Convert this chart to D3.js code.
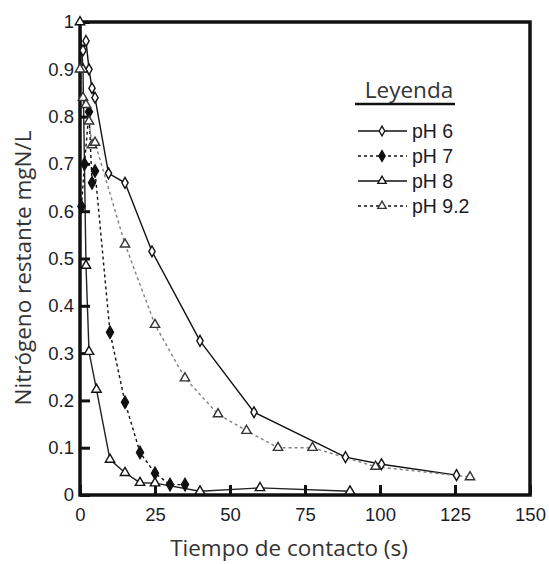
<!DOCTYPE html>
<html>
<head>
<meta charset="utf-8">
<script src="https://cdn.jsdelivr.net/npm/d3@7"></script>
<style>
  html, body { margin: 0; padding: 0; background: #fff; }
  svg { display: block; }
</style>
</head>
<body>
<svg id="chart" width="549" height="564"></svg>
<script>
// Remaining nitrogen (mgN/L) versus contact time (s) for four pH levels
const timePH6  = [1, 2, 3, 4, 5, 9.5, 15, 24, 40, 58, 88.5, 100.5, 125.5];
const valuePH6 = [0.94, 0.96, 0.90, 0.86, 0.84, 0.68, 0.66, 0.515, 0.326, 0.175, 0.08, 0.065, 0.042];

const timePH7  = [0.5, 1.5, 3, 4, 5, 10, 15, 20, 25, 30, 35];
const valuePH7 = [0.61, 0.70, 0.81, 0.66, 0.685, 0.344, 0.196, 0.09, 0.046, 0.022, 0.022];

const timePH8  = [0, 1, 2, 3, 5.5, 10, 15, 20, 25, 40, 60, 90];
const valuePH8 = [1.0, 0.90, 0.485, 0.303, 0.223, 0.075, 0.047, 0.026, 0.025, 0.008, 0.015, 0.008];

const timePH92  = [0, 1, 2, 3, 4, 5, 15, 25, 35, 46, 55.5, 66, 77.5, 98.5, 130];
const valuePH92 = [0.90, 0.84, 0.825, 0.79, 0.74, 0.745, 0.53, 0.36, 0.247, 0.171, 0.136, 0.10, 0.10, 0.06, 0.038];

const seriesNames = ["pH 6", "pH 7", "pH 8", "pH 9.2"];
const xTicks = [0, 25, 50, 75, 100, 125, 150];
const yTicks = [0, 0.1, 0.2, 0.3, 0.4, 0.5, 0.6, 0.7, 0.8, 0.9, 1];

const series = [
  { name: seriesNames[0], t: timePH6,  v: valuePH6,  symbol: d3.symbolDiamond,  size: 34, fill: "#fff", stroke: "#111", line: "#111", dash: null },
  { name: seriesNames[1], t: timePH7,  v: valuePH7,  symbol: d3.symbolDiamond,  size: 44, fill: "#111", stroke: "#111", line: "#111", dash: "3,3" },
  { name: seriesNames[2], t: timePH8,  v: valuePH8,  symbol: d3.symbolTriangle, size: 38, fill: "#fff", stroke: "#111", line: "#222", dash: null },
  { name: seriesNames[3], t: timePH92, v: valuePH92, symbol: d3.symbolTriangle, size: 38, fill: "#fff", stroke: "#333", line: "#808080", dash: "3,3" }
];

const svg = d3.select("#chart");
const x = d3.scaleLinear().domain([0, 150]).range([80, 530]);
const y = d3.scaleLinear().domain([0, 1]).range([495, 22]);

const tickFont = "'Liberation Sans', Arial, sans-serif";
const titleFont = "'Open Sans', 'Noto Sans', sans-serif";

// Data lines
const line = d3.line().x(d => x(d[0])).y(d => y(d[1]));
series.forEach(s => {
  const pts = s.t.map((t, i) => [t, s.v[i]]);
  svg.append("path")
    .datum(pts)
    .attr("d", line)
    .attr("fill", "none")
    .attr("stroke", s.line)
    .attr("stroke-width", 1.4)
    .attr("stroke-dasharray", s.dash);
});

// Frame
svg.append("rect")
  .attr("x", x(0)).attr("y", y(1))
  .attr("width", x(150) - x(0)).attr("height", y(0) - y(1))
  .attr("fill", "none").attr("stroke", "#111").attr("stroke-width", 3.5);

// Axes with inward ticks
const xAxis = svg.append("g")
  .attr("transform", `translate(0,${y(0)})`)
  .call(d3.axisBottom(x).tickValues(xTicks).tickSize(-10).tickPadding(13).tickFormat(d3.format("d")));
const yAxis = svg.append("g")
  .attr("transform", `translate(${x(0)},0)`)
  .call(d3.axisLeft(y).tickValues(yTicks).tickSize(-10).tickPadding(6)
    .tickFormat(d => d === 0 ? "0" : d === 1 ? "1" : d3.format(".1f")(d)));

[xAxis, yAxis].forEach(g => {
  g.select(".domain").remove();
  g.selectAll(".tick line").attr("stroke", "#111").attr("stroke-width", 3);
  g.selectAll(".tick text")
    .attr("fill", "#1c1c28")
    .style("font-family", tickFont)
    .style("font-size", "18.5px");
});

// Markers
series.forEach(s => {
  svg.append("g").selectAll("path")
    .data(s.t.map((t, i) => [t, s.v[i]]))
    .join("path")
    .attr("transform", d => `translate(${x(d[0])},${y(d[1])})`)
    .attr("d", d3.symbol().type(s.symbol).size(s.size))
    .attr("fill", s.fill)
    .attr("stroke", s.stroke)
    .attr("stroke-width", 1.4);
});

// Axis titles
svg.append("text")
  .attr("x", 289).attr("y", 556)
  .attr("text-anchor", "middle")
  .attr("fill", "#333")
  .style("font-family", titleFont)
  .style("font-size", "22.5px")
  .text("Tiempo de contacto (s)");

svg.append("text")
  .attr("transform", "translate(31,268) rotate(-90)")
  .attr("text-anchor", "middle")
  .attr("fill", "#333")
  .style("font-family", titleFont)
  .style("font-size", "22.5px")
  .text("Nitrógeno restante mgN/L");

// Legend
const legend = svg.append("g");
legend.append("text")
  .attr("x", 409).attr("y", 98)
  .attr("text-anchor", "middle")
  .attr("fill", "#333")
  .style("font-family", titleFont)
  .style("font-size", "22.5px")
  .text("Leyenda");
legend.append("line")
  .attr("x1", 355).attr("x2", 455)
  .attr("y1", 104).attr("y2", 104)
  .attr("stroke", "#111").attr("stroke-width", 2.5);

series.forEach((s, i) => {
  const cy = 131 + i * 25;
  legend.append("line")
    .attr("x1", 358).attr("x2", 407)
    .attr("y1", cy).attr("y2", cy)
    .attr("stroke", "#111")
    .attr("stroke-width", 1.4)
    .attr("stroke-dasharray", s.dash);
  legend.append("path")
    .attr("transform", `translate(382,${cy})`)
    .attr("d", d3.symbol().type(s.symbol).size(s.size * 0.8))
    .attr("fill", s.fill)
    .attr("stroke", s.stroke)
    .attr("stroke-width", 1.3);
  legend.append("text")
    .attr("x", 412).attr("y", cy + 7)
    .attr("fill", "#1c1c28")
    .style("font-family", tickFont)
    .style("font-size", "19.5px")
    .text(s.name);
});
</script>
</body>
</html>
